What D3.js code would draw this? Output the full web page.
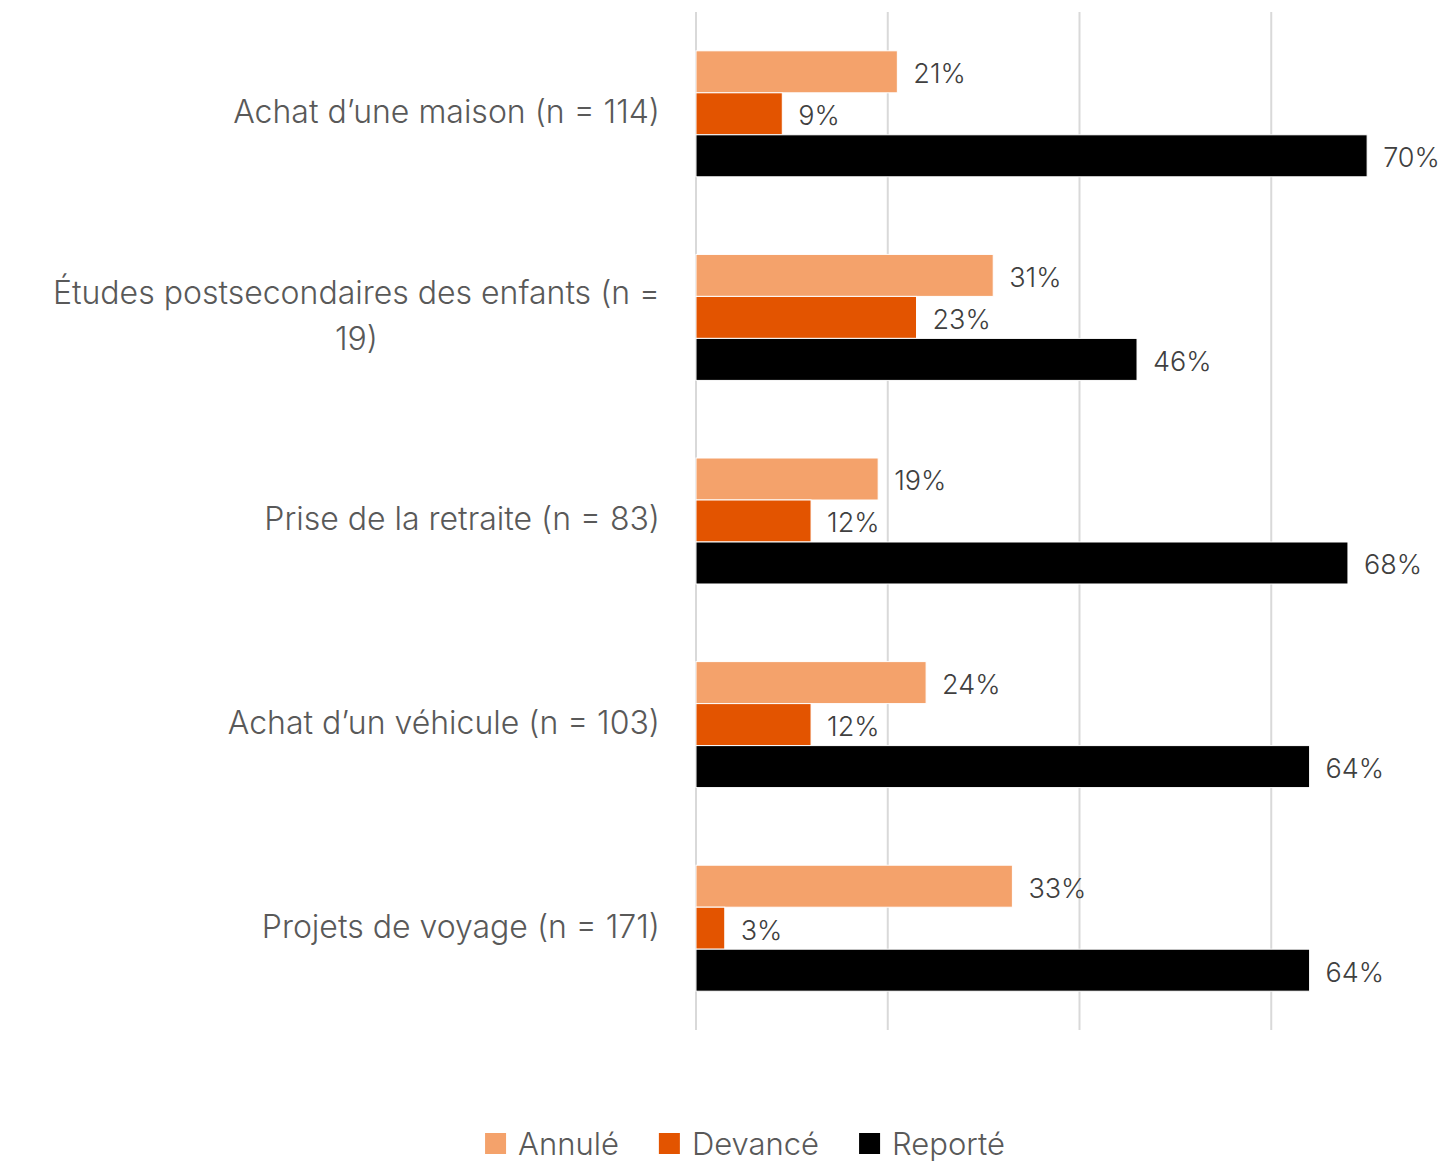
<!DOCTYPE html>
<html>
  <head>
    <meta charset="utf-8">
    <style>
      body { margin: 0; background: #fff; }
      text { font-family: Inter, "Open Sans", sans-serif; font-weight: 300; fill: #595959; }
      .grid line { stroke: #d9d9d9; stroke-width: 2; }
      .value { fill: #404040; font-size: 27px; }
      .cat { font-size: 32px; }
      .legend-name { font-size: 31px; }
    </style>
    <script src="https://cdn.jsdelivr.net/npm/d3@7/dist/d3.min.js"></script>
  </head>
  <body>
    <svg class="chart"></svg>
    <script>
      const categories = [
        "Achat d’une maison (n = 114)",
        "Études postsecondaires des enfants (n = 19)",
        "Prise de la retraite (n = 83)",
        "Achat d’un véhicule (n = 103)",
        "Projets de voyage (n = 171)"
      ];
      const series = ["Annulé", "Devancé", "Reporté"];
      const annule = [21, 31, 19, 24, 33];
      const devance = [9, 23, 12, 12, 3];
      const reporte = [70, 46, 68, 64, 64];
      const gridTicks = [0, 20, 40, 60];
      const colors = ["#f4a26b", "#e35400", "#000000"];

      const width = 1445, height = 1164;
      const plotLeft = 696, plotTop = 12, plotBottom = 1030;

      const svg = d3.select(".chart")
        .attr("width", width)
        .attr("height", height);

      const values = [annule, devance, reporte];
      const rows = categories.map((c, i) => ({
        name: c,
        bars: series.map((s, j) => ({ series: s, value: values[j][i] }))
      }));

      const xScale = d3.scaleLinear().domain([0, 80]).range([plotLeft, plotLeft + 767]);
      const yScale = d3.scaleBand().domain(categories).range([plotTop, plotBottom]);
      const ySub = d3.scaleBand().domain(series)
        .range([0, yScale.bandwidth()])
        .paddingOuter(0.924);
      const color = d3.scaleOrdinal(series, colors);

      // grille verticale
      svg.append("g").attr("class", "grid")
        .selectAll("line").data(gridTicks).enter()
        .append("line")
        .attr("x1", d => xScale(d)).attr("x2", d => xScale(d))
        .attr("y1", plotTop).attr("y2", plotBottom);

      const groups = svg.selectAll(".row").data(rows).enter()
        .append("g")
        .attr("class", "row")
        .attr("transform", d => `translate(0, ${yScale(d.name)})`);

      groups.selectAll("rect").data(d => d.bars).enter()
        .append("rect")
        .attr("x", xScale(0))
        .attr("y", d => ySub(d.series))
        .attr("width", d => xScale(d.value) - xScale(0))
        .attr("height", ySub.bandwidth())
        .attr("fill", d => color(d.series))
        .attr("stroke", "#fff")
        .attr("stroke-width", 1);

      groups.selectAll(".value").data(d => d.bars).enter()
        .append("text")
        .attr("class", "value")
        .attr("x", d => xScale(d.value) + 16)
        .attr("y", d => ySub(d.series) + ySub.bandwidth() / 2 + 2)
        .attr("dominant-baseline", "central")
        .text(d => d.value + "%");

      // étiquettes des catégories, avec retour à la ligne
      const maxLabel = 620;
      const labelX = 660;
      groups.each(function(d) {
        const g = d3.select(this);
        const t = g.append("text").attr("class", "cat").attr("text-anchor", "middle");
        const words = d.name.split(" ");
        let lines = [], line = [];
        const probe = g.append("text").attr("class", "cat");
        words.forEach(w => {
          line.push(w);
          probe.text(line.join(" "));
          if (probe.node().getComputedTextLength() > maxLabel && line.length > 1) {
            line.pop();
            lines.push(line.join(" "));
            line = [w];
          }
        });
        lines.push(line.join(" "));
        let widest = 0;
        lines.forEach(l => {
          probe.text(l);
          widest = Math.max(widest, probe.node().getComputedTextLength());
        });
        probe.remove();
        const lh = 46;
        const cy = yScale.bandwidth() / 2 - 2 - (lines.length - 1) * lh / 2;
        lines.forEach((l, i) => {
          t.append("tspan")
            .attr("x", labelX - widest / 2)
            .attr("y", cy + i * lh)
            .attr("dominant-baseline", "central")
            .text(l);
        });
      });

      // légende
      const legend = svg.append("g").attr("class", "legend");
      const items = legend.selectAll("g").data(series).enter().append("g");
      items.append("rect")
        .attr("width", 21).attr("height", 21)
        .attr("y", 1133)
        .attr("fill", d => color(d));
      items.append("text")
        .attr("class", "legend-name")
        .attr("x", 33)
        .attr("y", 1143)
        .attr("dominant-baseline", "central")
        .text(d => d);
      let pos = 0;
      const offsets = [];
      items.each(function() {
        offsets.push(pos);
        pos += d3.select(this).select("text").node().getComputedTextLength() + 33 + 40;
      });
      const total = pos - 40;
      const start = 745 - total / 2;
      items.attr("transform", (d, i) => `translate(${start + offsets[i]}, 0)`);
    </script>
  </body>
</html>
